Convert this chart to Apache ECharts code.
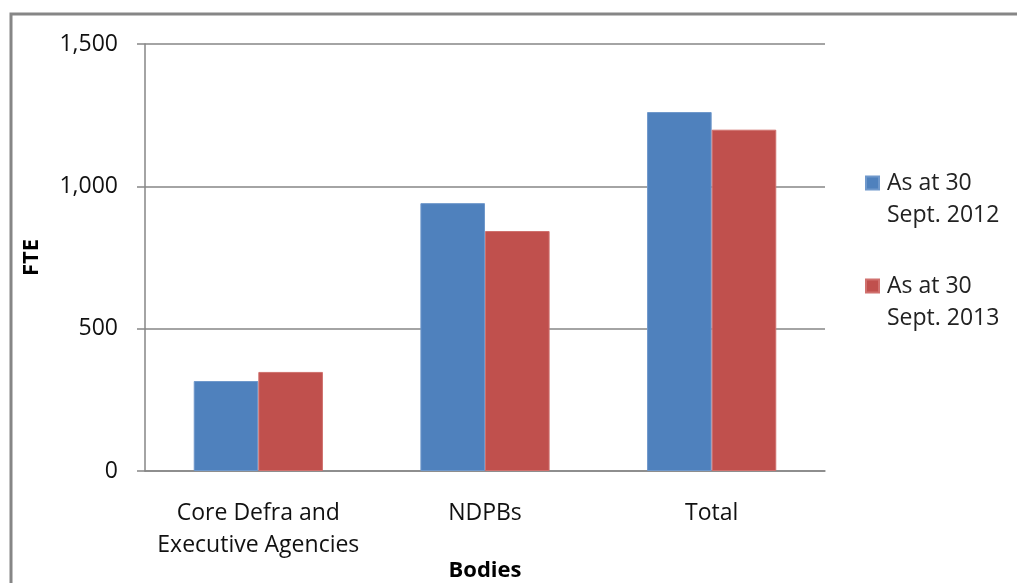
<!DOCTYPE html>
<html lang="en">
<head>
<meta charset="utf-8">
<script src="https://cdn.jsdelivr.net/npm/echarts@6/dist/echarts.min.js"></script>
<style>
  html, body { margin: 0; padding: 0; background: #fff; }
  #chart { width: 1017px; height: 583px; }
</style>
</head>
<body>
<div id="chart"></div>
<script type="text/javascript">
// data
var categories = ['Core Defra and\nExecutive Agencies', 'NDPBs', 'Total'];
var seriesNames = ['As at 30 Sept. 2012', 'As at 30 Sept. 2013'];
var fte2012 = [316, 941, 1261];
var fte2013 = [348, 843, 1199];
var yTicks = { min: 0, max: 1500, interval: 500 };

var font = '"Open Sans", "Liberation Sans", sans-serif';
var grey = '#868686';

var myChart = echarts.init(document.getElementById('chart'));

var option = {
  animation: false,
  textStyle: { fontFamily: font },
  graphic: [{
    type: 'rect',
    shape: { x: 11, y: 14, width: 1030, height: 600 },
    style: { fill: 'none', stroke: grey, lineWidth: 3 }
  }],
  grid: { left: 145, right: 192, top: 44, bottom: 112, outerBoundsMode: 'none', containLabel: false },
  legend: {
    orient: 'vertical',
    left: 860,
    top: 130,
    itemWidth: 13,
    itemHeight: 13,
    itemGap: 7,
    icon: 'rect',
    selectedMode: false,
    // leading blank line keeps the square level with the first text line
    formatter: function (name) { return '\n' + name.replace(' Sept', '\nSept'); },
    textStyle: { fontSize: 23, lineHeight: 32, color: '#222', fontFamily: font, padding: [0, 0, 0, 3] },
    data: seriesNames
  },
  xAxis: {
    type: 'category',
    data: categories,
    name: 'Bodies',
    nameLocation: 'middle',
    nameGap: 89,
    nameMoveOverlap: false,
    nameTextStyle: { fontSize: 22, fontWeight: 'bold', color: '#000', fontFamily: font },
    axisLine: { lineStyle: { color: grey, width: 1.5 } },
    axisTick: { length: 8, lineStyle: { color: grey, width: 1.5 } },
    axisLabel: { fontSize: 23, lineHeight: 32, color: '#111', margin: 26, interval: 0 }
  },
  yAxis: {
    type: 'value',
    min: yTicks.min,
    max: yTicks.max,
    interval: yTicks.interval,
    name: 'FTE',
    nameLocation: 'middle',
    nameGap: 102,
    nameMoveOverlap: false,
    nameRotate: 90,
    nameTextStyle: { fontSize: 22, fontWeight: 'bold', color: '#000', fontFamily: font },
    axisLine: { show: true, lineStyle: { color: grey, width: 1.5 } },
    axisTick: { show: true, length: 8, lineStyle: { color: grey, width: 1.5 } },
    axisLabel: {
      fontSize: 23, color: '#111', margin: 27,
      formatter: function (v) { return v.toLocaleString('en-US'); }
    },
    splitLine: { lineStyle: { color: grey, width: 1.5 } }
  },
  series: [{
    name: seriesNames[0],
    type: 'bar',
    data: fte2012,
    barGap: '0%',
    barCategoryGap: '43%',
    itemStyle: { color: '#4F81BD', borderColor: '#6f98cb', borderWidth: 1 }
  }, {
    name: seriesNames[1],
    type: 'bar',
    data: fte2013,
    itemStyle: { color: '#C0504D', borderColor: '#d0716e', borderWidth: 1 }
  }]
};

myChart.setOption(option);
</script>
</body>
</html>
